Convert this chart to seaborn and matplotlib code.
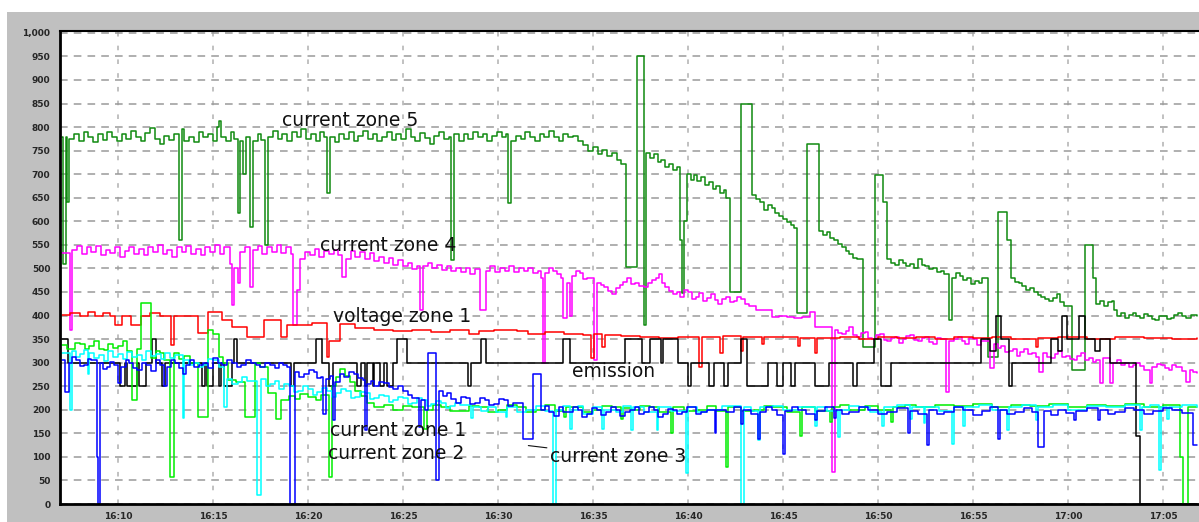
import matplotlib
matplotlib.use("Agg")
import matplotlib.pyplot as plt
import seaborn as sns
import pandas as pd
from matplotlib.patches import Rectangle
from matplotlib.ticker import MultipleLocator

# time in minutes after 16:00, value
zone5 = [(7.05,780),(7.12,510),(7.25,780),(7.32,640),(7.45,775),(7.7,785),(7.95,770),(8.2,790),(8.45,778),
 (8.7,768),(8.95,785),(9.2,772),(9.45,790),(9.7,780),(9.95,770),(10.2,785),(10.45,775),(10.7,792),
 (10.95,780),(11.2,770),(11.45,788),(11.7,798),(11.95,775),(12.2,765),(12.45,782),(12.7,772),(12.95,785),
 (13.2,560),(13.35,795),(13.5,770),(13.75,780),(14.0,768),(14.25,790),(14.5,778),(14.75,785),(15.0,770),
 (15.2,800),(15.3,813),(15.45,780),(15.7,770),(15.95,790),(16.1,775),(16.3,618),(16.4,770),(16.6,700),
 (16.75,780),(16.95,588),(17.1,770),(17.35,785),(17.55,772),(17.75,550),(17.9,780),(18.15,792),(18.4,775),
 (18.65,785),(18.9,770),(19.15,790),(19.4,778),(19.65,795),(19.9,775),(20.15,785),(20.4,770),(20.65,790),
 (20.85,780),(21.0,660),(21.15,780),(21.4,768),(21.65,785),(21.9,775),(22.15,790),(22.4,770),(22.65,782),
 (22.9,792),(23.15,775),(23.4,785),(23.65,770),(23.9,780),(24.15,790),(24.4,772),(24.65,785),(24.9,775),
 (25.15,795),(25.4,780),(25.65,770),(25.9,788),(26.15,776),(26.4,765),(26.65,782),(26.9,790),(27.15,775),
 (27.4,780),(27.55,518),(27.7,785),(27.95,770),(28.2,785),(28.45,775),(28.7,790),(28.95,778),(29.2,785),
 (29.45,770),(29.7,782),(29.95,790),(30.2,778),(30.4,785),(30.55,639),(30.7,770),(30.95,782),(31.2,775),
 (31.45,790),(31.7,780),(31.95,770),(32.2,785),(32.45,778),(32.7,792),(32.95,780),(33.2,770),(33.45,785),
 (33.7,778),(33.95,782),(34.2,770),(34.5,762),(34.75,750),(35.0,758),(35.25,742),(35.5,752),(35.75,738),
 (36.0,745),(36.25,730),(36.5,722),(36.75,504),(37.3,950),(37.7,380),(37.8,745),(38.0,735),(38.2,742),
 (38.4,725),(38.6,730),(38.8,715),(39.0,722),(39.2,708),(39.4,715),(39.6,560),(39.7,447),(39.8,600),
 (39.95,700),(40.15,688),(40.3,698),(40.5,685),(40.7,695),(40.9,678),(41.1,684),(41.3,668),(41.5,675),
 (41.7,660),(41.9,666),(42.0,650),(42.2,450),(42.8,850),(43.35,655),(43.6,648),(43.8,640),(44.0,625),
 (44.2,635),(44.4,628),(44.6,618),(44.8,612),(45.0,605),(45.2,598),(45.4,592),(45.6,585),(45.75,405),
 (46.25,765),(46.9,580),(47.1,572),(47.3,578),(47.5,565),(47.7,560),(47.9,552),(48.1,545),(48.3,538),
 (48.5,530),(48.7,522),(48.9,520),(49.2,334),(49.85,698),(50.25,640),(50.5,520),(50.7,512),(50.9,508),
 (51.1,518),(51.3,512),(51.5,505),(51.7,510),(51.9,502),(52.1,520),(52.3,508),(52.5,505),(52.7,498),
 (52.9,500),(53.1,492),(53.3,495),(53.5,488),(53.75,390),(53.9,480),(54.1,490),(54.3,485),(54.5,476),
 (54.7,480),(54.9,468),(55.1,474),(55.3,470),(55.5,480),(55.8,312),(56.3,620),(56.8,560),(57.0,480),
 (57.2,472),(57.4,470),(57.6,462),(57.8,455),(58.0,458),(58.2,450),(58.4,444),(58.6,440),(58.8,436),
 (59.0,430),(59.2,438),(59.4,445),(59.6,428),(59.8,420),(60.2,285),(60.9,550),(61.3,480),(61.5,425),
 (61.7,430),(61.9,420),(62.1,428),(62.3,430),(62.45,412),(62.6,400),(62.8,405),(63.0,395),(63.2,402),
 (63.4,405),(63.6,398),(63.8,395),(64.0,404),(64.2,400),(64.4,392),(64.6,390),(64.8,398),(65.0,400),
 (65.2,392),(65.4,395),(65.6,402),(65.8,405),(66.0,398),(66.2,395),(66.5,402),(66.8,400)]

zone4 = [(7.05,532),(7.5,370),(7.6,540),(7.85,548),(8.1,530),(8.35,545),(8.6,535),(8.85,548),(9.1,528),
 (9.35,540),(9.6,532),(9.85,545),(10.1,525),(10.35,538),(10.6,546),(10.85,530),(11.1,542),(11.35,528),
 (11.6,545),(11.85,535),(12.1,550),(12.35,530),(12.6,540),(12.85,525),(13.1,545),(13.35,535),(13.6,548),
 (13.85,530),(14.1,542),(14.35,528),(14.6,545),(14.85,535),(15.1,550),(15.35,530),(15.6,545),(15.9,510),
 (16.0,422),(16.1,500),(16.3,470),(16.45,535),(16.7,545),(16.95,461),(17.1,540),(17.35,548),(17.6,530),
 (17.85,545),(18.1,535),(18.35,550),(18.6,532),(18.85,545),(19.1,530),(19.2,380),(19.45,454),(19.6,520),
 (19.85,535),(20.1,528),(20.35,542),(20.6,525),(20.85,538),(21.1,530),(21.35,540),(21.6,528),(21.8,482),
 (22.0,520),(22.25,538),(22.5,525),(22.75,535),(23.0,520),(23.25,532),(23.5,515),(23.75,525),(24.0,512),
 (24.25,522),(24.5,508),(24.75,518),(25.0,505),(25.25,512),(25.5,498),(25.75,505),(25.9,412),(26.05,505),
 (26.3,512),(26.55,500),(26.8,508),(27.05,496),(27.3,505),(27.55,495),(27.8,502),(28.05,492),(28.3,500),
 (28.55,488),(28.8,498),(29.05,412),(29.35,495),(29.6,505),(29.85,492),(30.1,500),(30.35,495),(30.6,505),
 (30.85,492),(31.1,500),(31.35,494),(31.6,502),(31.85,490),(32.1,495),(32.25,480),(32.35,300),(32.5,490),
 (32.7,500),(32.9,495),(33.1,488),(33.3,480),(33.45,395),(33.65,470),(33.8,400),(33.9,485),(34.1,495),
 (34.3,490),(34.5,478),(34.7,480),(35.05,305),(35.2,470),(35.4,465),(35.6,460),(35.8,452),(36.0,445),
 (36.2,458),(36.4,465),(36.6,472),(36.8,480),(37.0,468),(37.2,470),(37.45,462),(37.7,460),(37.9,470),
 (38.1,475),(38.3,480),(38.5,489),(38.65,470),(38.8,460),(39.0,452),(39.2,445),(39.4,450),(39.6,440),
 (39.8,455),(40.0,450),(40.2,435),(40.4,440),(40.6,448),(40.8,430),(41.0,438),(41.2,445),(41.4,432),
 (41.6,425),(41.8,436),(42.0,440),(42.2,428),(42.4,430),(42.6,440),(42.8,435),(43.0,425),(43.2,420),
 (43.6,412),(44.0,412),(44.4,397),(44.8,400),(45.2,397),(45.6,395),(46.0,397),(46.4,408),(46.7,376),
 (47.6,68),(47.75,370),(47.9,362),(48.1,360),(48.3,368),(48.5,375),(48.7,358),(48.9,355),(49.1,362),
 (49.3,365),(49.5,352),(49.7,350),(49.9,358),(50.1,360),(50.3,348),(50.5,345),(50.7,352),(50.9,355),
 (51.1,342),(51.3,350),(51.5,356),(51.7,358),(51.9,348),(52.1,345),(52.3,352),(52.5,355),(52.7,344),
 (52.9,340),(53.1,352),(53.3,350),(53.6,238),(53.75,345),(54.0,350),(54.2,355),(54.4,346),(54.6,340),
 (54.8,352),(55.0,350),(55.2,338),(55.4,345),(55.9,288),(56.1,340),(56.3,332),(56.5,335),(56.7,322),
 (56.9,325),(57.1,330),(57.3,315),(57.5,322),(57.7,330),(57.9,318),(58.1,320),(58.3,312),(58.5,281),
 (58.7,320),(58.9,312),(59.1,310),(59.3,318),(59.5,325),(59.7,312),(59.9,315),(60.1,308),(60.3,305),
 (60.5,314),(60.7,320),(60.9,306),(61.1,310),(61.3,302),(61.5,305),(61.7,256),(61.85,310),(62.2,256),
 (62.35,300),(62.6,305),(62.8,295),(63.0,300),(63.2,290),(63.4,296),(63.6,300),(63.8,292),(64.0,285),
 (64.3,256),(64.45,290),(64.7,298),(64.9,295),(65.1,288),(65.3,285),(65.5,294),(65.7,290),(66.0,282),
 (66.2,260),(66.4,285),(66.6,280),(66.8,278)]

voltage1 = [(7.05,401),(7.5,405),(8.0,400),(8.4,408),(8.8,398),(9.2,405),(9.6,400),(9.85,380),(10.2,398),
 (10.7,380),(11.2,400),(11.7,405),(12.2,398),(12.8,337),(12.95,398),(13.5,400),(14.2,362),(14.75,408),
 (15.5,390),(16.0,376),(16.8,355),(17.7,390),(18.6,355),(18.9,380),(19.5,380),(20.2,385),(21.0,312),
 (21.1,345),(21.7,383),(22.5,373),(23.5,370),(24.5,368),(25.5,370),(26.5,365),(27.5,369),(28.5,360),
 (29.0,368),(29.8,370),(31.0,368),(31.6,360),(32.5,365),(33.5,360),(34.5,358),(34.9,309),(35.05,360),
 (35.5,334),(35.65,358),(36.5,356),(37.5,355),(38.5,352),(39.5,355),(40.6,291),(40.75,355),(41.7,320),
 (41.85,356),(42.8,325),(42.9,355),(43.9,340),(44.0,355),(45.8,335),(45.9,352),(46.7,320),(46.8,352),
 (48.0,355),(49.0,350),(50.0,355),(51.0,352),(52.0,355),(53.0,350),(54.0,355),(55.0,352),(56.0,355),
 (57.0,350),(58.3,334),(58.45,352),(59.5,355),(61.0,350),(62.5,355),(64.0,352),(65.5,350),(66.8,352)]

emission = [(7.05,350),(7.35,300),(10.1,250),(10.35,300),(10.5,250),(11.0,300),(11.1,250),(11.5,300),
 (11.8,350),(12.0,300),(12.3,250),(12.5,300),(14.4,250),(14.6,300),(14.7,250),(15.0,300),(15.3,250),
 (15.4,300),(15.6,250),(16.0,300),(16.1,350),(16.25,300),(19.1,250),(19.25,300),(20.45,350),(20.75,300),
 (21.1,250),(21.3,300),(22.6,250),(22.8,300),(23.0,250),(23.1,300),(23.4,250),(23.5,300),(23.8,250),
 (24.0,300),(24.15,250),(24.5,300),(24.7,350),(25.2,300),(28.4,250),(28.6,300),(29.1,350),(29.35,300),
 (33.4,350),(33.8,300),(36.7,350),(37.6,300),(38.0,350),(38.6,300),(38.7,350),(39.5,300),(40.0,250),
 (40.15,300),(41.1,250),(41.35,300),(41.9,250),(42.1,300),(42.8,350),(43.1,250),(44.2,300),(44.7,250),
 (45.0,300),(45.4,250),(45.65,300),(46.7,250),(47.4,300),(48.7,250),(48.9,300),(49.8,350),(50.15,250),
 (50.7,300),(55.4,350),(55.9,325),(56.2,400),(56.5,350),(56.9,250),(57.05,300),(59.1,350),(59.5,325),
 (59.7,400),(59.95,350),(60.1,350),(60.6,400),(60.9,350),(61.4,325),(61.7,350),(62.2,300),(63.6,145),
 (63.8,0),(66.8,0)]

zone1 = [(7.05,305),(7.2,238),(7.4,300),(7.6,312),(7.8,305),(8.0,292),(8.2,295),(8.4,308),(8.6,305),
 (8.9,100),(8.95,0),(9.05,300),(9.2,286),(9.4,290),(9.6,302),(9.8,295),(10.0,256),(10.15,290),(10.4,305),
 (10.6,300),(10.8,288),(11.0,285),(11.25,300),(11.5,295),(11.75,282),(12.0,305),(12.2,296),(12.4,250),
 (12.6,290),(12.8,305),(13.0,300),(13.2,288),(13.4,275),(13.6,295),(13.8,305),(14.0,290),(14.25,296),
 (14.5,300),(14.75,288),(15.0,310),(15.25,300),(15.5,295),(15.75,306),(16.0,300),(16.25,290),(16.5,295),
 (16.75,305),(17.0,300),(17.25,296),(17.5,290),(17.75,300),(18.0,295),(18.25,288),(18.5,300),(18.7,296),
 (18.9,290),(19.05,0),(19.3,280),(19.55,270),(19.8,275),(20.05,285),(20.3,280),(20.5,268),(20.7,270),
 (20.8,192),(20.95,265),(21.15,272),(21.3,178),(21.45,260),(21.7,275),(21.9,270),(22.15,280),(22.4,275),
 (22.65,268),(22.9,263),(23.0,157),(23.1,255),(23.3,262),(23.5,250),(23.75,258),(24.0,256),(24.25,248),
 (24.5,245),(24.75,250),(25.0,240),(25.25,232),(25.5,225),(25.85,164),(25.95,220),(26.15,199),(26.3,320),
 (26.75,51),(26.9,240),(27.1,230),(27.3,235),(27.55,222),(27.8,215),(28.05,228),(28.3,225),(28.55,212),
 (28.8,215),(29.05,224),(29.3,220),(29.55,210),(29.8,213),(30.05,222),(30.3,220),(30.55,208),(30.8,215),
 (31.3,139),(31.85,277),(32.25,200),(32.5,208),(32.7,195),(32.95,186),(33.2,205),(33.45,196),(33.7,195),
 (33.95,206),(34.2,200),(34.45,184),(34.7,190),(34.95,204),(35.2,200),(35.45,188),(35.7,195),(35.95,205),
 (36.2,200),(36.45,186),(36.7,195),(36.95,200),(37.2,205),(37.45,192),(37.7,195),(37.95,206),(38.2,200),
 (38.45,185),(38.7,190),(38.95,202),(39.2,200),(39.45,190),(39.7,195),(39.95,206),(40.2,205),(40.45,192),
 (40.7,195),(41.0,200),(41.4,150),(41.5,200),(42.0,195),(42.4,205),(42.8,170),(42.9,200),(43.3,192),
 (43.7,139),(43.8,195),(44.1,205),(44.4,200),(44.7,188),(45.0,107),(45.1,198),(45.5,205),(45.8,200),
 (46.2,190),(46.7,178),(46.8,198),(47.2,205),(47.7,182),(47.8,200),(48.1,192),(48.5,195),(49.0,205),
 (49.5,200),(50.0,190),(50.5,195),(51.0,204),(51.6,150),(51.7,198),(52.1,190),(52.6,125),(52.7,200),
 (53.1,192),(53.5,195),(54.0,205),(54.5,200),(55.0,188),(55.5,198),(55.9,205),(56.3,139),(56.4,200),
 (56.8,190),(57.2,195),(57.7,204),(58.1,196),(58.4,121),(58.75,198),(59.1,188),(59.5,200),(59.9,194),
 (60.3,178),(60.4,198),(61.0,204),(61.6,178),(61.7,200),(62.1,192),(62.5,195),(63.0,204),(63.5,200),
 (64.0,190),(64.5,198),(65.0,204),(65.5,200),(66.0,194),(66.6,125),(66.8,125)]

zone2 = [(7.05,337),(7.3,328),(7.5,330),(7.75,342),(8.0,340),(8.25,330),(8.5,335),(8.75,345),(9.0,330),
 (9.25,326),(9.5,340),(9.75,332),(10.0,335),(10.25,345),(10.5,325),(10.75,220),(11.0,330),(11.2,426),
 (11.75,310),(12.0,325),(12.2,320),(12.45,305),(12.75,57),(12.95,320),(13.2,308),(13.5,315),(13.8,300),
 (14.2,185),(14.75,370),(15.0,360),(15.3,312),(15.55,300),(15.8,263),(16.2,258),(16.7,185),(17.2,300),
 (17.5,290),(17.9,235),(18.3,180),(18.6,220),(19.0,230),(19.3,222),(19.6,234),(20.0,228),(20.4,220),
 (20.7,232),(21.1,57),(21.25,250),(21.5,270),(21.7,287),(21.95,272),(22.2,260),(22.5,240),(22.8,230),
 (23.1,215),(23.5,205),(24.0,210),(24.5,200),(25.0,208),(25.5,205),(26.1,160),(26.25,200),(26.6,210),
 (27.0,205),(27.5,198),(28.0,198),(28.5,208),(29.0,205),(29.5,196),(30.0,200),(30.5,210),(31.0,205),
 (31.5,196),(32.0,200),(32.5,210),(33.0,198),(33.5,185),(33.6,205),(34.0,205),(34.5,196),(35.0,200),
 (35.5,208),(36.0,205),(36.5,180),(36.6,204),(37.0,200),(37.5,208),(38.0,205),(38.5,196),(39.1,150),
 (39.2,205),(39.8,198),(40.5,200),(41.0,208),(41.5,198),(42.0,79),(42.1,205),(42.8,198),(43.5,200),
 (44.0,208),(44.5,205),(45.2,196),(45.9,145),(46.0,205),(46.7,198),(47.5,175),(47.6,205),(48.0,210),
 (48.5,200),(49.3,208),(50.0,200),(50.7,175),(50.8,205),(51.4,210),(52.0,205),(53.0,210),(54.0,208),
 (55.0,212),(56.0,205),(57.0,210),(58.0,208),(59.0,212),(60.0,205),(61.0,210),(62.0,208),(63.0,212),
 (64.0,205),(65.0,210),(65.9,100),(66.05,0),(66.3,205),(66.8,205)]

zone3 = [(7.05,320),(7.5,199),(7.6,325),(7.8,312),(8.0,318),(8.2,326),(8.4,277),(8.5,320),(8.75,310),
 (9.0,316),(9.25,304),(9.5,325),(9.75,312),(10.0,318),(10.25,308),(10.5,322),(10.75,312),(11.0,316),
 (11.25,306),(11.5,325),(11.75,314),(12.0,318),(12.25,308),(12.5,320),(12.75,310),(13.0,316),(13.4,182),
 (13.5,305),(13.75,296),(14.0,300),(14.25,290),(14.5,295),(14.75,308),(15.0,305),(15.3,290),(15.6,206),
 (15.75,265),(16.0,255),(16.3,258),(16.55,270),(16.8,262),(17.3,19),(17.55,265),(17.8,250),(18.0,255),
 (18.25,262),(18.5,245),(18.75,255),(19.0,250),(19.25,238),(19.5,240),(19.75,250),(20.0,245),(20.25,232),
 (20.5,238),(20.75,246),(21.0,240),(21.25,228),(21.5,235),(21.75,244),(22.0,240),(22.25,226),(22.5,228),
 (22.75,238),(23.0,235),(23.25,222),(23.5,225),(23.75,232),(24.0,230),(24.25,216),(24.5,220),(24.75,228),
 (25.0,225),(25.25,212),(25.5,215),(25.75,224),(26.0,220),(26.25,208),(26.5,212),(26.75,218),(27.0,215),
 (27.25,204),(27.5,208),(27.75,214),(28.0,210),(28.6,182),(28.7,206),(29.1,198),(29.5,205),(29.9,196),
 (30.4,185),(30.5,205),(31.0,196),(31.5,200),(32.0,208),(32.5,198),(32.9,0),(33.05,200),(33.4,208),
 (33.8,160),(33.9,200),(34.2,208),(34.5,190),(35.0,205),(35.5,160),(35.6,200),(36.2,195),(36.6,208),
 (37.0,157),(37.1,205),(37.7,196),(38.35,157),(38.45,205),(39.1,198),(39.9,65),(40.0,205),(40.5,196),
 (41.0,200),(41.8,208),(42.8,0),(42.95,205),(43.3,198),(43.7,135),(43.8,205),(44.4,208),(45.0,200),
 (45.8,206),(46.7,165),(46.8,205),(47.3,198),(47.9,142),(48.0,200),(48.5,208),(49.0,205),(49.6,196),
 (50.2,165),(50.3,205),(51.0,210),(51.7,180),(51.8,205),(52.4,172),(52.5,205),(53.2,198),(53.9,128),
 (54.0,205),(54.5,165),(54.6,205),(55.3,210),(56.0,200),(56.8,157),(56.9,205),(57.6,210),(58.3,178),
 (58.4,205),(59.2,210),(60.0,200),(61.0,208),(62.0,205),(63.0,210),(63.8,157),(63.9,205),(64.3,210),
 (64.8,72),(64.9,205),(65.2,180),(65.3,205),(66.0,210),(66.8,205)]

series = {
    "current zone 5": zone5,
    "current zone 4": zone4,
    "voltage zone 1": voltage1,
    "emission": emission,
    "current zone 2": zone2,
    "current zone 3": zone3,
    "current zone 1": zone1,
}
colors = {
    "current zone 5": "#108a10",
    "current zone 4": "#ff00ff",
    "voltage zone 1": "#ff0000",
    "emission": "#000000",
    "current zone 2": "#00ee00",
    "current zone 3": "#00ffff",
    "current zone 1": "#0000ff",
}
yticks = list(range(0, 1001, 50))
xticks = list(range(10, 66, 5))
xticklabels = ["16:10", "16:15", "16:20", "16:25", "16:30", "16:35", "16:40",
               "16:45", "16:50", "16:55", "17:00", "17:05"]

rows = []
for name, pts in series.items():
    for t, v in pts:
        rows.append({"t": t, "value": v, "series": name})
df = pd.DataFrame(rows)

sns.set_style("white")
plt.rcParams["font.family"] = ["DejaVu Sans"]

W, H = 1199, 522
fig = plt.figure(figsize=(W / 100, H / 100), dpi=100, facecolor="white")
fig.patches.append(Rectangle((7 / W, 0), 1, (H - 12) / H, transform=fig.transFigure,
                             facecolor="#c0c0c0", edgecolor="none", zorder=-10))
ax = fig.add_axes([60 / W, 18 / H, (W - 60) / W, 473 / H])
ax.set_facecolor("white")

sns.lineplot(data=df, x="t", y="value", hue="series", hue_order=list(series.keys()),
             palette=colors, estimator=None, sort=False, drawstyle="steps-post",
             linewidth=1.1, legend=False, ax=ax)

ax.set_xlim(6.95, 66.9)
ax.set_ylim(0, 1004)
ax.set_xlabel("")
ax.set_ylabel("")
ax.set_yticks(yticks)
ax.set_yticklabels(["1,000" if v == 1000 else str(v) for v in yticks])
ax.set_xticks(xticks)
ax.set_xticklabels(xticklabels)
ax.xaxis.set_minor_locator(MultipleLocator(1))

ax.yaxis.grid(True, color="#9a9a9a", linestyle=(0, (5, 4)), linewidth=1.1)
ax.xaxis.grid(True, which="major", color="#b0b0b0", linestyle=(0, (3, 6)), linewidth=1.1)
ax.set_axisbelow(True)

for s in ["left", "bottom"]:
    ax.spines[s].set_color("black")
    ax.spines[s].set_linewidth(2)
ax.spines["top"].set_color("black")
ax.spines["top"].set_linewidth(1.5)
ax.spines["right"].set_visible(False)

ax.tick_params(axis="y", which="major", length=3, color="black", labelsize=6.5,
               pad=4, direction="out")
ax.tick_params(axis="x", which="major", length=4, color="#888888", labelsize=6.5,
               pad=6, direction="in")
ax.tick_params(axis="x", which="minor", length=3, color="#888888", direction="in")
for lab in ax.get_xticklabels() + ax.get_yticklabels():
    lab.set_fontweight("bold")

txt = dict(fontsize=13.5, color="#111111", va="center", ha="left")
ax.text(18.63, 815, "current zone 5", **txt)
ax.text(20.63, 548, "current zone 4", **txt)
ax.text(21.3, 399, "voltage zone 1", **txt)
ax.text(33.9, 282, "emission", **txt)
ax.text(21.16, 157, "current zone 1", **txt)
ax.text(21.05, 108, "current zone 2", **txt)
ax.annotate("current zone 3", xy=(31.6, 124), xytext=(32.75, 101),
            arrowprops=dict(arrowstyle="-", lw=0.8, color="#111111", shrinkA=0, shrinkB=0),
            **txt)

fig.savefig("out.png", dpi=100, facecolor=fig.get_facecolor())
